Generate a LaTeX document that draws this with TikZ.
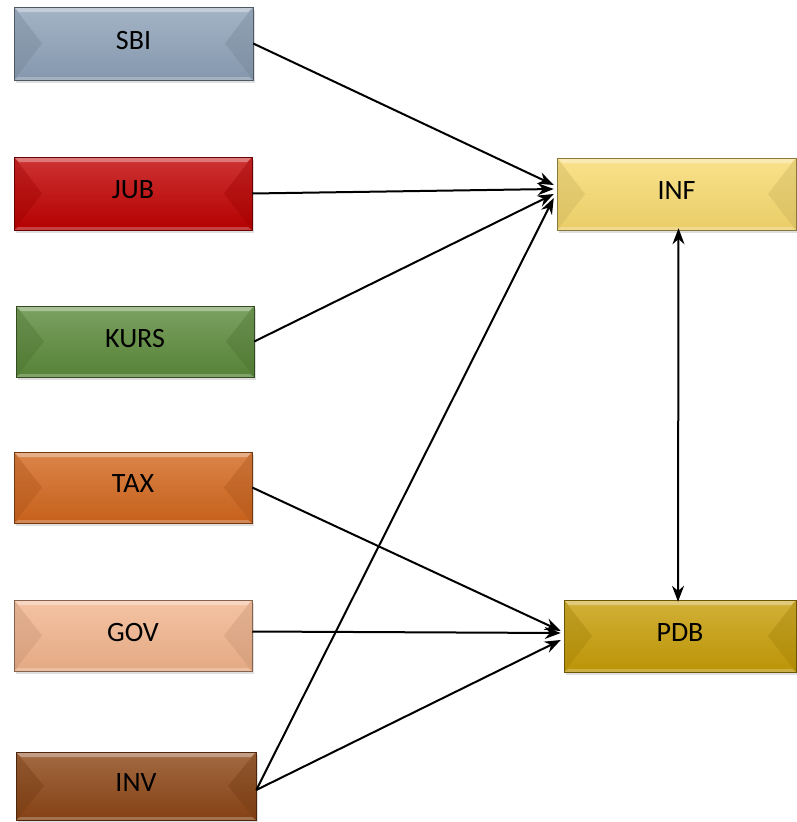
\documentclass[tikz,border=0pt]{standalone}
\usepackage{fontspec}
\setmainfont{Carlito}
\usetikzlibrary{arrows.meta,shadows}
\definecolor{cSBI}{HTML}{8DA1B8}
\definecolor{cJUB}{HTML}{C00000}
\definecolor{cKURS}{HTML}{5B8A3A}
\definecolor{cTAX}{HTML}{D2661C}
\definecolor{cGOV}{HTML}{F2B48C}
\definecolor{cINV}{HTML}{8C4514}
\definecolor{cINF}{HTML}{F8DA6E}
\definecolor{cPDB}{HTML}{C79D06}
\tikzset{
  bev/.style={draw=#1!55!black, line width=0.5pt, inner sep=0pt,
    top color=#1!80!white, bottom color=#1!94!black,
    drop shadow={shadow xshift=2pt, shadow yshift=-3pt, opacity=0.25},
    font=\fontsize{28}{32}\selectfont,
    path picture={
      \fill[#1!80!black, opacity=0.35]
        (path picture bounding box.north west) --
        ([xshift=28pt]path picture bounding box.west) --
        (path picture bounding box.south west) -- cycle;
      \fill[#1!80!black, opacity=0.35]
        (path picture bounding box.north east) --
        ([xshift=-28pt]path picture bounding box.east) --
        (path picture bounding box.south east) -- cycle;
      \fill[white, opacity=0.35]
        (path picture bounding box.north west) --
        (path picture bounding box.north east) --
        ([xshift=-5pt,yshift=-5pt]path picture bounding box.north east) --
        ([xshift=5pt,yshift=-5pt]path picture bounding box.north west) -- cycle;
      \fill[white, opacity=0.25]
        (path picture bounding box.south west) --
        (path picture bounding box.south east) --
        ([xshift=-4pt,yshift=3pt]path picture bounding box.south east) --
        ([xshift=4pt,yshift=3pt]path picture bounding box.south west) -- cycle;
    }},
  conn/.style={line width=2pt, -{Stealth[length=16pt,width=12pt]}},
}
\begin{document}
\begin{tikzpicture}[x=1pt,y=-1pt]
\useasboundingbox (0,0) rectangle (796,822);
\node[bev=cSBI, minimum width=239pt, minimum height=73pt] (sbi) at (133.5,43.5) {\raisebox{7pt}{SBI}};
\node[bev=cJUB, minimum width=238pt, minimum height=73pt] (jub) at (133,193.5) {\raisebox{7pt}{JUB}};
\node[bev=cKURS, minimum width=238pt, minimum height=71pt] (kurs) at (135,341.5) {\raisebox{7pt}{KURS}};
\node[bev=cTAX, minimum width=238pt, minimum height=71pt] (tax) at (133,487.5) {\raisebox{7pt}{TAX}};
\node[bev=cGOV, minimum width=238pt, minimum height=71pt] (gov) at (133,635.5) {\raisebox{7pt}{GOV}};
\node[bev=cINV, minimum width=240pt, minimum height=68pt] (inv) at (136,786) {\raisebox{7pt}{INV}};
\node[bev=cINF, minimum width=239pt, minimum height=72pt] (inf) at (676.5,194) {\raisebox{7pt}{INF}};
\node[bev=cPDB, minimum width=232pt, minimum height=72pt] (pdb) at (680,636) {\raisebox{7pt}{PDB}};

\draw[conn] (sbi.east) -- ([xshift=-3pt,yshift=9pt]inf.west);
\draw[conn] (jub.east) -- ([xshift=-3pt,yshift=5pt]inf.west);
\draw[conn] (kurs.east) -- ([xshift=-3pt,yshift=0pt]inf.west);
\draw[conn] ([yshift=-4pt]inv.east) -- ([xshift=-3pt,yshift=-4pt]inf.west);
\draw[conn] (tax.east) -- ([xshift=-3pt,yshift=5pt]pdb.west);
\draw[conn] ([yshift=4pt]gov.east) -- ([xshift=-3pt,yshift=3pt]pdb.west);
\draw[conn] ([yshift=-4pt]inv.east) -- ([xshift=-3pt,yshift=-4pt]pdb.west);
\draw[line width=2pt, {Stealth[length=16pt,width=12pt]}-{Stealth[length=16pt,width=12pt]}] ([xshift=2pt,yshift=2pt]inf.south) -- ([xshift=-2pt,yshift=-2pt]pdb.north);
\end{tikzpicture}
\end{document}
